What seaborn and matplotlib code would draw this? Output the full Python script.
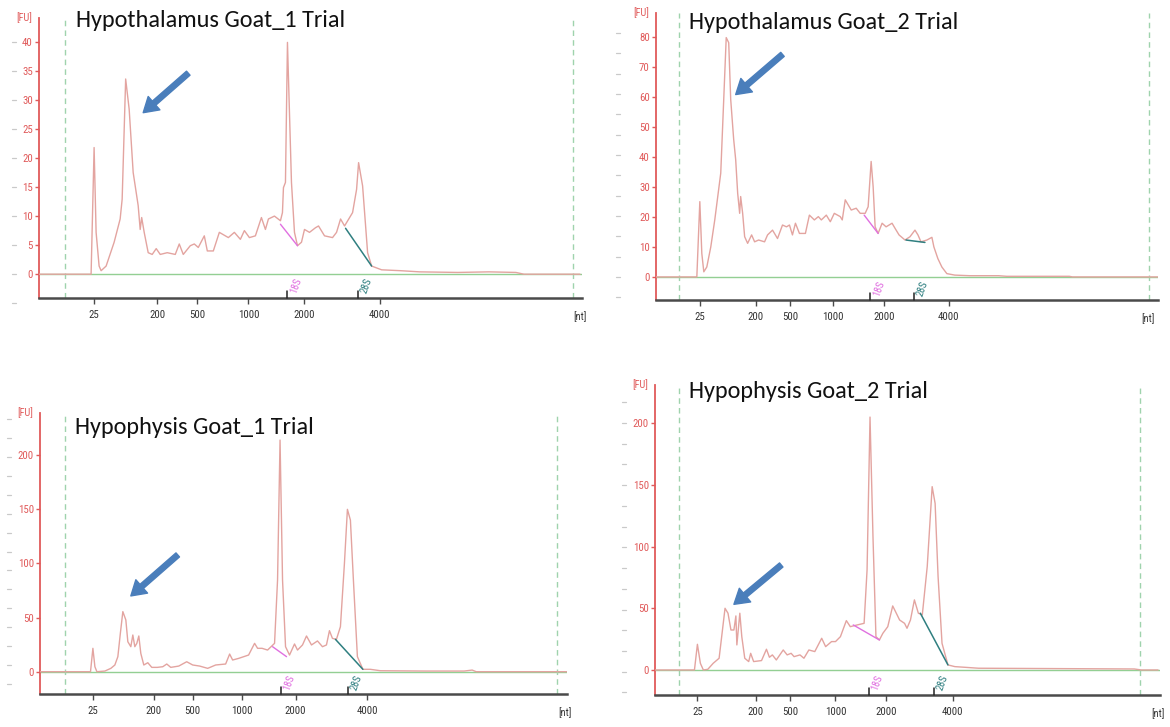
import matplotlib
matplotlib.use("Agg")
import matplotlib.pyplot as plt
import matplotlib.transforms as mtrans
from matplotlib import font_manager
import seaborn as sns
import pandas as pd
import numpy as np

# ---------------- data (migration time in s, fluorescence in FU) ----------------
ladder_labels = ["25", "200", "500", "1000", "2000", "4000"]

# Hypothalamus Goat_1
h1_time = [17.0, 22.2, 22.5, 22.7, 23.0, 23.2, 23.7, 24.5, 25.1, 25.3, 25.65, 26.0, 26.4, 26.9, 27.1, 27.25,
           27.5, 27.9, 28.3, 28.7, 29.1, 29.8, 30.6, 31.0, 31.4, 32.1, 32.5, 32.9, 33.5, 33.8, 34.4, 35.0,
           35.6, 35.9, 36.5, 37.1, 37.5, 38.0, 38.6, 39.2, 39.6, 39.9, 40.5, 41.1, 41.3, 41.4, 41.6, 41.8,
           42.2, 42.5, 42.8, 43.2, 43.5, 44.0, 44.6, 44.9, 45.5, 46.3, 46.7, 47.1, 47.5, 48.3, 48.7, 48.9,
           49.3, 49.6, 49.8, 50.2, 51.2, 53.1, 55.0, 58.8, 61.9, 64.6, 65.4, 71.0]
h1_fu = [0, 0, 21.8, 7.2, 1.4, 0.6, 1.4, 5.5, 9.5, 12.9, 33.6, 28.4, 17.5, 11.8, 7.7, 9.75,
         7.2, 3.7, 3.4, 4.4, 3.4, 3.7, 3.4, 5.2, 3.4, 4.9, 5.2, 4.6, 6.6, 4.0, 4.0, 7.2,
         6.6, 6.3, 7.2, 6.0, 7.5, 6.3, 6.6, 9.75, 7.7, 9.5, 10.0, 9.2, 10.6, 14.9, 15.8, 39.9,
         15.8, 7.2, 4.9, 5.5, 7.7, 7.2, 8.0, 8.3, 6.6, 6.3, 7.2, 9.5, 8.3, 10.6, 14.6, 19.2,
         15.2, 8.3, 3.7, 1.4, 0.75, 0.6, 0.4, 0.3, 0.4, 0.3, 0, 0]
h1_ladder = [22.5, 28.8, 32.8, 37.9, 43.5, 51.0]
h1_limits = [19.6, 70.3]
h1_rrna = [41.8, 48.8]
h1_18s_base = [(41.1, 8.6), (42.8, 4.9)]
h1_28s_base = [(47.6, 7.9), (50.2, 1.4)]
h1_arrow = [(31.9, 34.6), (27.4, 27.8)]
h1_yticks = [0, 5, 10, 15, 20, 25, 30, 35, 40]

# Hypothalamus Goat_2
h2_time = [17.0, 21.1, 21.4, 21.6, 21.8, 22.1, 22.5, 22.9, 23.2, 23.5, 23.8, 24.05, 24.3, 24.5, 24.8, 25.0,
           25.2, 25.4, 25.5, 25.7, 25.9, 26.2, 26.6, 26.9, 27.3, 27.9, 28.2, 28.7, 29.2, 29.7, 30.1, 30.4,
           30.7, 31.0, 31.4, 32.0, 32.4, 32.9, 33.3, 33.6, 34.1, 34.5, 34.9, 35.5, 35.7, 36.0, 36.6, 37.1,
           37.5, 38.0, 38.3, 38.6, 38.8, 39.0, 39.3, 39.7, 40.1, 40.7, 41.0, 41.4, 42.0, 42.5, 43.0, 43.3,
           43.6, 44.2, 44.7, 44.9, 45.3, 45.7, 46.2, 47.0, 48.5, 51.4, 52.2, 58.5, 58.8, 67.4]
h2_fu = [0, 0, 25.1, 7.8, 1.7, 3.3, 10.0, 19.0, 26.8, 34.6, 59.2, 79.8, 78.1, 59.2, 45.8, 39.1,
         27.9, 21.2, 26.8, 21.2, 13.4, 11.2, 14.0, 11.7, 12.3, 11.7, 14.0, 15.6, 12.8, 17.3, 16.7, 17.3,
         14.0, 17.9, 14.5, 14.5, 20.6, 19.0, 20.1, 19.0, 20.6, 18.4, 21.2, 20.1, 19.0, 25.7, 22.3, 22.9,
         21.2, 21.2, 23.4, 38.5, 30.1, 16.7, 14.5, 17.9, 16.7, 17.9, 16.2, 14.0, 12.3, 13.4, 15.6, 14.0,
         11.7, 12.3, 13.2, 10.0, 6.1, 3.3, 1.1, 0.6, 0.4, 0.4, 0.2, 0.2, 0, 0]
h2_ladder = [21.4, 27.0, 30.5, 34.8, 39.9, 46.4]
h2_limits = [19.3, 66.5]
h2_rrna = [38.5, 42.9]
h2_18s_base = [(37.9, 20.6), (39.3, 14.5)]
h2_28s_base = [(42.1, 12.3), (44.0, 11.5)]
h2_arrow = [(29.7, 74.2), (25.0, 60.8)]
h2_yticks = [0, 10, 20, 30, 40, 50, 60, 70, 80]

# Hypophysis Goat_1
p1_time = [17.0, 22.06, 22.3, 22.5, 22.7, 23.5, 24.1, 24.5, 24.8, 25.05, 25.3, 25.6, 25.8, 26.1, 26.3, 26.5,
           26.7, 26.9, 27.1, 27.4, 27.8, 28.2, 28.75, 29.3, 29.7, 30.1, 30.9, 31.7, 32.3, 33.0, 33.8, 34.6,
           35.6, 36.0, 36.3, 36.9, 37.9, 38.5, 38.8, 39.25, 39.8, 40.5, 40.8, 41.05, 41.3, 41.6, 42.0, 42.5,
           42.8, 43.3, 43.7, 44.2, 44.8, 45.3, 45.7, 46.0, 46.3, 46.7, 47.1, 47.5, 47.8, 48.1, 48.4, 48.8,
           49.35, 50.1, 51.1, 55.6, 59.5, 60.3, 60.7, 69.8]
p1_fu = [0, 0, 21.6, 4.6, 0, 0.6, 3.1, 6.2, 13.9, 35.4, 55.5, 47.8, 27.7, 23.1, 33.9, 23.1,
         26.2, 33.0, 16.9, 6.2, 8.3, 4.0, 4.0, 4.6, 7.1, 4.0, 5.2, 9.2, 6.2, 5.2, 3.1, 6.2,
         7.1, 16.3, 10.8, 12.3, 15.4, 26.2, 21.6, 21.6, 20.0, 26.2, 84.7, 214, 84.7, 23.1, 15.4, 25.6,
         20.0, 24.7, 33.0, 24.7, 28.4, 23.1, 24.7, 37.9, 30.8, 29.9, 41.6, 100, 150, 140, 84.7, 13.9,
         2.2, 2.2, 0.9, 0.6, 0.6, 1.5, 0, 0]
p1_ladder = [22.3, 28.4, 32.3, 37.2, 42.6, 49.8]
p1_limits = [19.5, 68.8]
p1_rrna = [41.1, 47.9]
p1_18s_base = [(40.3, 23.1), (41.7, 13.9)]
p1_28s_base = [(46.6, 29.9), (49.35, 2.2)]
p1_arrow = [(30.8, 107.9), (26.1, 70.0)]
p1_yticks = [0, 50, 100, 150, 200]

# Hypophysis Goat_2
p2_time = [17.0, 21.0, 21.3, 21.6, 21.9, 22.35, 22.9, 23.5, 23.8, 24.1, 24.4, 24.7, 25.0, 25.2, 25.3, 25.6,
           25.8, 26.1, 26.5, 26.7, 27.0, 27.8, 28.3, 28.6, 28.9, 29.3, 30.0, 30.4, 30.8, 31.1, 31.7, 32.1,
           32.6, 33.2, 33.9, 34.3, 34.9, 35.3, 35.8, 36.4, 36.8, 37.5, 38.2, 38.5, 38.8, 39.1, 39.4, 39.75,
           40.1, 40.6, 41.1, 41.55, 41.8, 42.3, 42.55, 42.9, 43.3, 43.7, 44.1, 44.6, 45.1, 45.4, 45.7, 46.1,
           46.7, 47.4, 48.35, 49.8, 65.6, 66.3, 68.0]
p2_fu = [0, 0, 20.8, 5.4, 0, 0.5, 5.4, 9.5, 29.7, 50, 46, 32.4, 32.4, 43.8, 20.3, 46,
         27, 9.5, 6.8, 13.5, 6.8, 7.6, 16.8, 10.3, 12.2, 8.1, 16.2, 12.2, 13.5, 10.8, 12.2, 9.5,
         16.2, 14.9, 25.7, 18.9, 23, 23, 27, 40, 35.1, 36.5, 37.8, 81, 205, 108, 27, 24.3,
         29.7, 35.1, 51.9, 44.6, 40.5, 37.8, 33.8, 40.5, 56.8, 46, 44.6, 83.8, 148.6, 135, 75.7, 21.6,
         4.1, 2.7, 2.2, 1.4, 0.8, 0, 0]
p2_ladder = [21.3, 27.2, 30.7, 35.3, 40.4, 47.2]
p2_limits = [19.4, 66.2]
p2_rrna = [38.7, 45.25]
p2_18s_base = [(37.1, 36.5), (39.75, 24.3)]
p2_28s_base = [(43.9, 46.0), (46.7, 4.1)]
p2_arrow = [(29.8, 85.1), (25.0, 53.2)]
p2_yticks = [0, 50, 100, 150, 200]

titles = ["Hypothalamus Goat_1 Trial", "Hypothalamus Goat_2 Trial",
          "Hypophysis Goat_1 Trial", "Hypophysis Goat_2 Trial"]

# ---------------- style ----------------
sns.set_theme(style="white")
names = {f.name for f in font_manager.fontManager.ttflist}
title_font = next((f for f in ["Carlito", "Lato", "Open Sans"] if f in names), "DejaVu Sans")
tick_font = next((f for f in ["Liberation Sans Narrow", "Roboto Condensed", "DejaVu Sans"] if f in names), "DejaVu Sans")
plt.rcParams["font.family"] = [tick_font, "DejaVu Sans"]

TRACE = "#e3a4a0"
BASE = "#93cf93"
LIMIT = "#9fd3ad"
RED = "#e05a5a"
AXIS = "#4a4a4a"
MAG = "#e070e0"
TEAL = "#2f7f80"
ARROW = "#4a7ebb"

W, H = 1170, 727
fig = plt.figure(figsize=(W / 100, H / 100), dpi=100)
fig.patch.set_facecolor("white")

panels = [
    dict(t=h1_time, fu=h1_fu, ladder=h1_ladder, lim=h1_limits, rrna=h1_rrna, b18=h1_18s_base, b28=h1_28s_base,
         arrow=h1_arrow, yticks=h1_yticks, rect=(39, 18, 582, 298), xlim=(17, 71.2), ylim=(-4.1, 44.1),
         title_xy=(76, 27), marks=(-27, 0.0, 5.0), nt_dx=0),
    dict(t=h2_time, fu=h2_fu, ladder=h2_ladder, lim=h2_limits, rrna=h2_rrna, b18=h2_18s_base, b28=h2_28s_base,
         arrow=h2_arrow, yticks=h2_yticks, rect=(656, 13, 1158, 300), xlim=(17, 67.4), ylim=(-7.7, 88),
         title_xy=(689, 29), marks=(-40, 0.0, 6.78), nt_dx=-8),
    dict(t=p1_time, fu=p1_fu, ladder=p1_ladder, lim=p1_limits, rrna=p1_rrna, b18=p1_18s_base, b28=p1_28s_base,
         arrow=p1_arrow, yticks=p1_yticks, rect=(40, 413, 567, 694), xlim=(17, 69.8), ylim=(-20.6, 239),
         title_xy=(75, 434), marks=(-33, 6.0, 17.5), nt_dx=0),
    dict(t=p2_time, fu=p2_fu, ladder=p2_ladder, lim=p2_limits, rrna=p2_rrna, b18=p2_18s_base, b28=p2_28s_base,
         arrow=p2_arrow, yticks=p2_yticks, rect=(655, 385, 1160, 695), xlim=(17, 68.2), ylim=(-20.3, 231),
         title_xy=(689, 398), marks=(-33, -1.4, 16.8), nt_dx=0),
]

for title, p in zip(titles, panels):
    L, T, R, B = p["rect"]
    wpx, hpx = R - L, B - T
    ax = fig.add_axes([L / W, 1 - B / H, wpx / W, hpx / H])
    ax.set_facecolor("none")
    ax.set_xlim(*p["xlim"])
    ax.set_ylim(*p["ylim"])

    # baseline and analysis limits
    ax.axhline(0, color=BASE, lw=1.0, zorder=1)
    for x in p["lim"]:
        ax.axvline(x, color=LIMIT, lw=1.0, ls=(0, (4, 3)), zorder=1)

    # trace
    df = pd.DataFrame({"time": p["t"], "fu": p["fu"]})
    sns.lineplot(data=df, x="time", y="fu", ax=ax, color=TRACE, lw=1.0, sort=False,
                 estimator=None, zorder=3)

    # rRNA peak baselines
    (x0, y0), (x1, y1) = p["b18"]
    ax.plot([x0, x1], [y0, y1], color=MAG, lw=1.0, zorder=4)
    (x0, y0), (x1, y1) = p["b28"]
    ax.plot([x0, x1], [y0, y1], color=TEAL, lw=1.1, zorder=4)

    # rRNA markers on x-axis
    blend = mtrans.blended_transform_factory(ax.transData, ax.transAxes)
    for m, lab, col in zip(p["rrna"], ["18S", "28S"], [MAG, TEAL]):
        ax.plot([m, m], [0, 7 / hpx], transform=blend, color="#222222", lw=1.1, clip_on=False, zorder=5)
        ax.text(m + 0.85, p["ylim"][0] * 0.5, lab, rotation=70, color=col, fontsize=7.5,
                ha="center", va="center", zorder=5)

    # decorative faint marks at far left
    off, start, step = p["marks"]
    yb = mtrans.blended_transform_factory(ax.transAxes, ax.transData)
    ys = np.arange(start - step, p["ylim"][1], step)
    ys = ys[ys > p["ylim"][0] - step]
    for yv in ys:
        ax.plot([off / wpx, (off + 4) / wpx], [yv, yv], transform=yb, color="#c9c9c9",
                lw=0.9, clip_on=False)

    # arrow
    tail, tip = p["arrow"]
    ax.annotate("", xy=tip, xytext=tail,
                arrowprops=dict(arrowstyle="simple,head_length=0.65,head_width=0.8,tail_width=0.24",
                                color=ARROW, mutation_scale=16, shrinkA=0, shrinkB=0), zorder=6)

    # axes styling
    sns.despine(ax=ax, top=True, right=True)
    ax.spines["left"].set_color(RED)
    ax.spines["left"].set_linewidth(1.3)
    ax.spines["bottom"].set_color(AXIS)
    ax.spines["bottom"].set_linewidth(1.8)
    ax.set_yticks(p["yticks"])
    ax.set_yticklabels([str(v) for v in p["yticks"]])
    ax.set_xticks(p["ladder"])
    ax.set_xticklabels(ladder_labels)
    ax.tick_params(axis="y", which="major", direction="out", length=3, width=1.0, color=RED,
                   labelcolor=RED, labelsize=7.8, pad=1.5, left=True)
    ax.tick_params(axis="x", which="major", direction="out", length=4, width=1.0, color=AXIS,
                   labelcolor="#333333", labelsize=7.8, pad=4.5, bottom=True)
    ax.set_xlabel("")
    ax.set_ylabel("")
    ax.grid(False)

    ax.text(-15 / wpx, 1.0, "[FU]", transform=ax.transAxes, color=RED, fontsize=7.5,
            ha="center", va="center")
    ax.text((wpx - 2 + p["nt_dx"]) / wpx, -19 / hpx, "[nt]", transform=ax.transAxes, color="#333333",
            fontsize=7.5, ha="center", va="center")

    fig.text(p["title_xy"][0] / W, 1 - p["title_xy"][1] / H, title, fontfamily=[title_font, "DejaVu Sans"],
             fontsize=17.5, color="#111111", ha="left", va="baseline")

fig.savefig("out.png", dpi=100, facecolor="white")
